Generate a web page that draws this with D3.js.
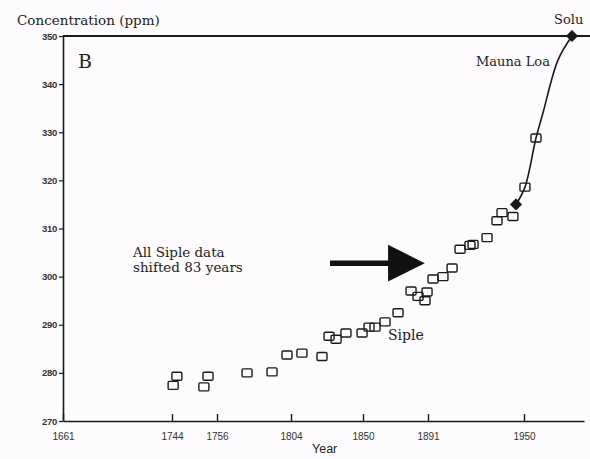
<!DOCTYPE html>
<html>
<head>
<meta charset="utf-8">
<script src="https://cdn.jsdelivr.net/npm/d3@7"></script>
<style>
  html, body { margin: 0; padding: 0; background: #fdfbfd; }
  svg { display: block; }
</style>
</head>
<body>
<svg id="chart" width="590" height="459"></svg>
<script>
// ---- data ----
const yearTicks = [1661, 1744, 1756, 1804, 1850, 1891, 1950];
const ppmTicks = [270, 280, 290, 300, 310, 320, 330, 340, 350];

// Siple ice-core samples (shifted 83 years)
const sipleYear = [1744.3, 1745.3, 1752.5, 1753.6, 1775.5, 1791.7, 1801.4, 1811.0, 1823.8,
  1828.3, 1832.8, 1839.1, 1849.4, 1853.8, 1857.6, 1863.9, 1872.1, 1880.3, 1884.7, 1889.1,
  1890.4, 1894.1, 1900.2, 1905.8, 1910.7, 1916.8, 1918.7, 1927.3, 1933.4, 1936.5, 1943.2,
  1950.8, 1960.0];
const sipleCO2 = [277.4, 279.3, 277.1, 279.3, 280.0, 280.2, 283.7, 284.1, 283.4,
  287.6, 287.0, 288.3, 288.3, 289.5, 289.5, 290.6, 292.5, 297.0, 295.9, 295.0,
  296.8, 299.5, 300.0, 301.8, 305.7, 306.5, 306.7, 308.1, 311.6, 313.3, 312.5,
  318.6, 328.8];

// Mauna Loa curve
const maunaYear = [1945.1, 1950.8, 1960.0, 1965.8, 1978.3, 1990.0];
const maunaCO2 = [315.0, 318.6, 328.8, 334.0, 345.0, 350.0];
// end points drawn as filled diamonds
const diamondYear = [1945.1, 1990.0];
const diamondCO2 = [315.0, 350.0];

// ---- scales (the original year axis is not uniform) ----
const x = d3.scaleLinear()
  .domain([1661, 1744, 1756, 1804, 1850, 1891, 1950, 1990, 2000])
  .range([63, 172, 217, 291, 363, 428, 524, 572, 584]);
const y = d3.scaleLinear().domain([270, 350]).range([421, 36]);

const svg = d3.select("#chart");
const ink = "#1a1a1a";
const serif = "'DejaVu Serif', 'Liberation Serif', serif";
const sans = "'Liberation Sans', Arial, sans-serif";

// top frame line
svg.append("line")
  .attr("x1", x(1661)).attr("x2", 590)
  .attr("y1", y(350)).attr("y2", y(350))
  .attr("stroke", ink).attr("stroke-width", 2);

// y axis
const yAxis = svg.append("g")
  .attr("transform", `translate(${x(1661)},0)`)
  .call(d3.axisLeft(y).tickValues(ppmTicks).tickSize(4).tickSizeOuter(0).tickPadding(2));
yAxis.select(".domain").attr("stroke", ink).attr("stroke-width", 1.6);
yAxis.selectAll(".tick line").attr("stroke", ink).attr("stroke-width", 1.2);
yAxis.selectAll(".tick text")
  .attr("font-family", sans).attr("font-size", 9.5).attr("font-weight", "bold")
  .attr("fill", "#333").attr("letter-spacing", "-0.3");

// x axis
const xAxis = svg.append("g")
  .attr("transform", `translate(0,${y(270)})`)
  .call(d3.axisBottom(x).tickValues(yearTicks).tickFormat(d3.format("d"))
    .tickSizeInner(-7).tickSizeOuter(0).tickPadding(12));
xAxis.select(".domain").attr("stroke", ink).attr("stroke-width", 1.6);
xAxis.selectAll(".tick line").attr("stroke", ink).attr("stroke-width", 1.4);
xAxis.selectAll(".tick text")
  .attr("font-family", sans).attr("font-size", 10).attr("fill", "#333");

// Mauna Loa curve
const line = d3.line()
  .x(i => x(maunaYear[i])).y(i => y(maunaCO2[i]))
  .curve(d3.curveCatmullRom.alpha(0.5));
svg.append("path")
  .attr("d", line(d3.range(maunaYear.length)))
  .attr("fill", "none").attr("stroke", ink).attr("stroke-width", 1.6);

// Siple squares
svg.append("g").selectAll("rect")
  .data(d3.range(sipleYear.length))
  .join("rect")
  .attr("x", i => x(sipleYear[i]) - 5)
  .attr("y", i => y(sipleCO2[i]) - 4)
  .attr("width", 10).attr("height", 8).attr("rx", 1.2)
  .attr("fill", "none").attr("stroke", ink).attr("stroke-width", 1.4);

// diamonds
svg.append("g").selectAll("path")
  .data(d3.range(diamondYear.length))
  .join("path")
  .attr("d", d3.symbol().type(d3.symbolDiamond2).size(95))
  .attr("transform", i => `translate(${x(diamondYear[i])},${y(diamondCO2[i])})`)
  .attr("fill", ink);

// arrow annotation (in data units)
const arrowTail = 1828.9, arrowNeck = 1865.8, arrowTip = 1889.0, arrowY = 302.8;
svg.append("line")
  .attr("x1", x(arrowTail)).attr("x2", x(arrowNeck) + 2)
  .attr("y1", y(arrowY)).attr("y2", y(arrowY))
  .attr("stroke", "#111").attr("stroke-width", 5.5);
svg.append("path")
  .attr("d", `M${x(arrowNeck)},${y(arrowY + 3.8)} L${x(arrowTip)},${y(arrowY)} L${x(arrowNeck)},${y(arrowY - 3.8)} Z`)
  .attr("fill", "#111");

// texts
function txt(str, tx, ty, size, fam, anchor) {
  return svg.append("text").attr("x", tx).attr("y", ty)
    .attr("font-family", fam).attr("font-size", size)
    .attr("text-anchor", anchor || "start").attr("fill", "#222").text(str);
}
txt("Concentration (ppm)", 17, 25, 13.5, serif);
txt("Solu", 554, 24, 13, serif);
txt("B", 78, 68, 19, serif);
txt("Mauna Loa", 476, 66, 13, serif);
txt("All Siple data", 133, 257, 13.5, serif);
txt("shifted 83 years", 133, 272, 13.5, serif);
txt("Siple", 388, 340, 14, serif);
txt("Year", 312, 453, 12.5, sans);
</script>
</body>
</html>
